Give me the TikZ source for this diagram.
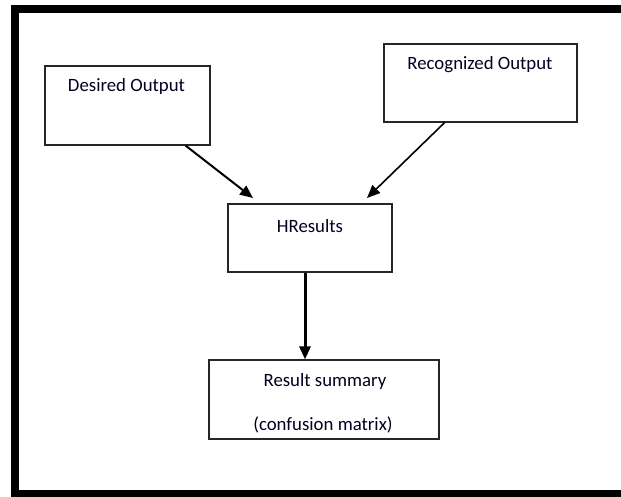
\documentclass[tikz,border=0pt]{standalone}
\usepackage{fontspec}
\setmainfont{Carlito}
\usetikzlibrary{arrows.meta,calc}
\begin{document}
\begin{tikzpicture}[x=1pt,y=-1pt,
  box/.style={draw=black!85,line width=1.2pt,rectangle,inner sep=0pt},
  lbl/.style={inner sep=0pt,font=\fontsize{18.8}{22}\selectfont,text=black!88!blue},
  flow/.style={draw=black,line width=2pt,-{Triangle[length=13pt,width=11pt]}},
]
\useasboundingbox (0,0) rectangle (621,496);
\clip (0,0) rectangle (621,496);
% frame around the whole chart (right side runs off the page)
\draw[line width=8pt] (650,9) -- (15,9) -- (15,494) -- (650,494);

% boxes
\node[box,minimum width=165pt,minimum height=79pt] (des) at (127.5,105.5) {};
\node[box,minimum width=193pt,minimum height=78pt] (rec) at (480.5,83) {};
\node[box,minimum width=164pt,minimum height=68pt] (hres) at (310,238) {};
\node[box,minimum width=230pt,minimum height=79pt] (sum) at (324,399.5) {};

% captions
\node[lbl] (desT) at (126.5,86) {Desired Output};
\node[lbl] (recT) at (480,65) {Recognized Output};
\node[lbl] (hresT) at (310,226) {HResults};
\node[lbl] (sumT) at (325,381) {Result summary};
\node[lbl] (sumT2) at (323,425) {(confusion matrix)};

% arrow ends stop short of the HResults box
\coordinate (tipA) at (253,198);
\coordinate (tipB) at (367,198);

\draw[flow] ([xshift=-25pt]des.south east) -- (tipA);
\draw[flow,line width=1.6pt] ([xshift=-133pt]rec.south east) -- (tipB);
\draw[flow,line width=3pt] (hres.south -| 305,0) -- (sum.north -| 305,0);
\end{tikzpicture}
\end{document}
